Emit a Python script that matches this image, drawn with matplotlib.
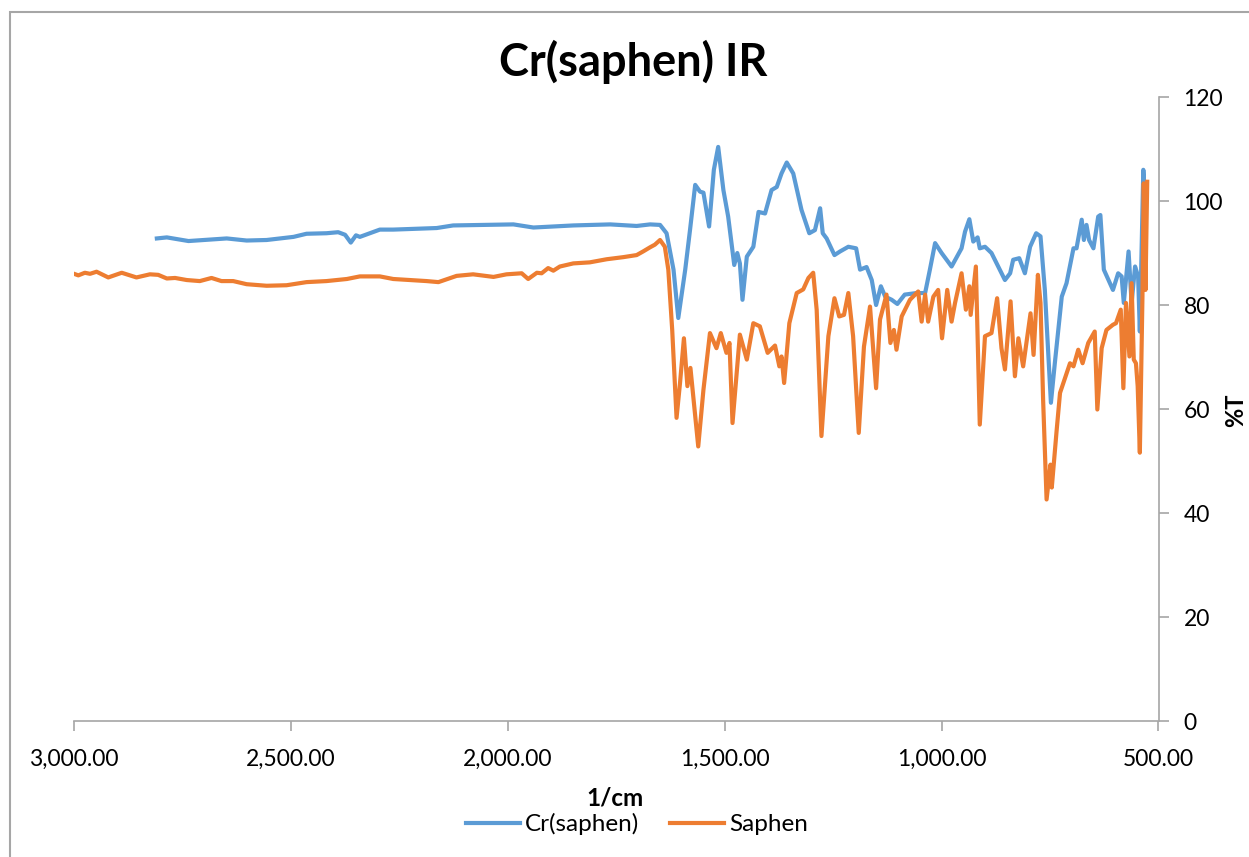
import matplotlib.pyplot as plt
from matplotlib.patches import Rectangle

plt.rcParams['font.family'] = ['Lato', 'DejaVu Sans']

# Cr(saphen) spectrum, wavenumber (1/cm) vs %T
cr_x = [2809, 2786, 2736, 2648, 2602, 2556, 2494, 2464, 2418, 2391, 2375, 2362, 2350, 2341,
        2295, 2264, 2164, 2126, 1987, 1941, 1849, 1764, 1703, 1672, 1649, 1634, 1618, 1607,
        1591, 1580, 1568, 1557, 1549, 1536, 1525, 1515, 1503, 1492, 1478, 1471, 1465, 1459,
        1449, 1434, 1422, 1407, 1392, 1380, 1369, 1357, 1342, 1323, 1305, 1292, 1280, 1274,
        1265, 1247, 1234, 1215, 1197, 1188, 1173, 1161, 1151, 1140, 1130, 1115, 1102, 1085,
        1058, 1038, 1027, 1015, 1000, 977, 954, 946, 936, 927, 917, 912, 900, 885, 854, 842,
        835, 821, 808, 796, 782, 772, 762, 748, 739, 723, 712, 696, 689, 677, 672, 666, 660,
        650, 639, 634, 626, 612, 605, 593, 585, 580, 569, 562, 554, 547, 543, 535, 531]
cr_y = [92.8, 93.0, 92.3, 92.8, 92.4, 92.5, 93.1, 93.7, 93.8, 94.0, 93.5, 92.0, 93.4, 93.1,
        94.5, 94.5, 94.8, 95.3, 95.5, 94.9, 95.3, 95.5, 95.2, 95.5, 95.4, 93.8, 86.8, 77.5,
        86.8, 94.4, 103.1, 101.8, 101.6, 95.1, 106.0, 110.4, 102.1, 97.0, 87.7, 90.0, 88.0, 81.0,
        89.3, 91.2, 97.9, 97.6, 102.1, 102.7, 105.3, 107.4, 105.3, 98.3, 93.8, 94.4, 98.6, 93.8,
        92.8, 89.6, 90.3, 91.2, 90.9, 86.8, 87.3, 84.8, 80.0, 83.6, 81.6, 81.0, 80.2, 82.0,
        82.3, 82.3, 86.8, 91.9, 90.0, 87.4, 90.9, 94.1, 96.5, 92.2, 93.0, 90.9, 91.2, 90.0, 84.8, 86.1,
        88.7, 89.0, 86.1, 91.2, 93.8, 93.2, 82.9, 61.2, 68.8, 81.6, 84.2, 90.9, 90.9, 96.4, 92.5, 95.4, 92.5,
        90.9, 97.0, 97.3, 86.8, 84.2, 82.9, 86.1, 85.5, 80.4, 90.3, 80.4, 87.4, 85.5, 74.9, 106.0, 100.8]

# Saphen spectrum
sa_x = [3000, 2990, 2975, 2963, 2948, 2921, 2890, 2856, 2825, 2806, 2786, 2767, 2740, 2710,
        2683, 2660, 2633, 2602, 2556, 2510, 2464, 2418, 2371, 2341, 2295, 2264, 2187, 2160,
        2118, 2080, 2033, 2003, 1968, 1953, 1933, 1922, 1907, 1895, 1880, 1849, 1811, 1772,
        1734, 1703, 1688, 1672, 1661, 1649, 1638, 1630, 1621, 1611, 1603, 1594, 1586, 1579,
        1571, 1561, 1549, 1534, 1519, 1509, 1496, 1489, 1482, 1465, 1449, 1434, 1419, 1401,
        1384, 1374, 1369, 1363, 1351, 1334, 1319, 1307, 1296, 1288, 1277, 1261, 1247, 1236,
        1225, 1215, 1204, 1191, 1179, 1165, 1151, 1142, 1127, 1118, 1110, 1104, 1092, 1073,
        1054, 1046, 1038, 1031, 1019, 1008, 999, 987, 977, 969, 954, 944, 936, 933, 921, 912,
        900, 885, 872, 862, 854, 841, 831, 823, 812, 795, 788, 778, 772, 766, 758, 749, 746,
        735, 727, 704, 696, 685, 675, 662, 647, 641, 631, 620, 605, 598, 587, 581, 575, 567,
        562, 557, 552, 548, 543, 537, 534, 530, 526]
sa_y = [86.0, 85.7, 86.2, 86.0, 86.4, 85.3, 86.2, 85.3, 85.9, 85.8, 85.1, 85.2, 84.8, 84.6,
        85.2, 84.6, 84.6, 84.0, 83.7, 83.8, 84.4, 84.6, 85.0, 85.5, 85.5, 85.0, 84.6, 84.4,
        85.6, 85.9, 85.4, 85.9, 86.1, 85.0, 86.2, 86.1, 87.1, 86.6, 87.4, 88.0, 88.2, 88.8,
        89.2, 89.6, 90.3, 91.1, 91.6, 92.5, 91.2, 86.8, 75.2, 58.3, 65.0, 73.6, 64.4, 67.9,
        61.2, 52.8, 63.7, 74.6, 71.7, 74.6, 70.8, 72.7, 57.3, 74.3, 69.5, 76.5, 75.9, 70.8,
        72.2, 68.2, 70.1, 65.0, 76.5, 82.3, 83.0, 85.2, 86.2, 79.1, 54.8, 74.0, 81.3, 77.8,
        78.1, 82.3, 74.0, 55.4, 72.0, 79.7, 64.0, 77.2, 82.0, 72.7, 75.2, 71.4, 77.8, 81.0,
        82.6, 76.8, 82.0, 76.8, 81.6, 82.9, 73.6, 82.9, 76.8, 80.4, 86.1, 79.1, 83.6, 78.1, 87.4, 57.0,
        74.0, 74.6, 81.3, 71.7, 67.6, 80.7, 66.3, 73.6, 68.2, 78.4, 70.4, 85.8, 80.4, 61.8, 42.6, 49.3, 44.9,
        55.7, 63.1, 68.8, 68.2, 71.4, 68.8, 72.7, 74.9, 59.9, 71.7, 75.2, 76.2, 76.5, 79.1, 64.0, 80.4, 70.1,
        84.2, 69.5, 68.8, 64.4, 51.6, 81.6, 103.4, 82.9, 103.7]

x_ticks = [3000, 2500, 2000, 1500, 1000, 500]
x_labels = ['3,000.00', '2,500.00', '2,000.00', '1,500.00', '1,000.00', '500.00']

fig = plt.figure(figsize=(12.49, 8.57), dpi=100)
ax = fig.add_axes([74/1249, 1-721/857, (1158.5-74)/1249, (721-97)/857])

ax.plot(cr_x, cr_y, color='#5B9BD5', lw=3.0, label='Cr(saphen)')
ax.plot(sa_x, sa_y, color='#ED7D31', lw=3.0, label='Saphen')

ax.set_xlim(3000, 500)
ax.set_ylim(0, 120)
ax.set_xticks(x_ticks)
ax.set_xticklabels(x_labels)
ax.set_yticks(range(0, 121, 20))

ax.yaxis.tick_right()
for s in ['left', 'top']:
    ax.spines[s].set_visible(False)
for s in ['right', 'bottom']:
    ax.spines[s].set_color('#A6A6A6')
    ax.spines[s].set_linewidth(1.2)
ax.tick_params(axis='both', colors='#A6A6A6', labelcolor='black', labelsize=16.5,
               length=7, width=1.2, direction='out')
ax.tick_params(axis='x', pad=13)
ax.tick_params(axis='y', pad=11)

fig.text(615/1249, 1-798/857, '1/cm', ha='center', va='center', fontsize=17.5, fontweight='bold')
fig.text(1236/1249, 1-410/857, '%T', ha='center', va='center', rotation=90,
         fontsize=17, fontweight='bold')
fig.text(633/1249, 1-62/857, 'Cr(saphen) IR', ha='center', va='center',
         fontsize=32.5, fontweight='bold')

fig.legend(loc='center', bbox_to_anchor=(637/1249, 1-824/857), ncol=2, frameon=False,
           fontsize=17.5, handlelength=2.2, columnspacing=1.3, handletextpad=0.2)

# chart area border
fig.patches.append(Rectangle((10/1249, -0.1), 1.2, 1.1 - 12/857, transform=fig.transFigure,
                             fill=False, edgecolor='#A6A6A6', lw=1.5))

fig.savefig('out.png', dpi=100)
